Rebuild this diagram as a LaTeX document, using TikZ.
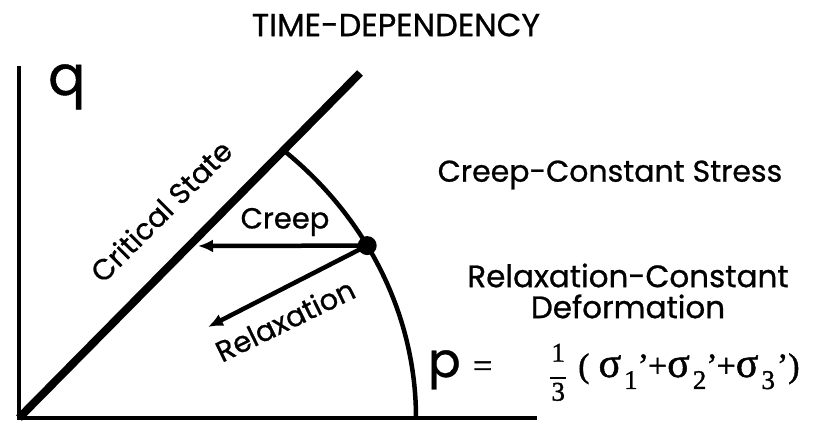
\documentclass[tikz,border=0pt]{standalone}
\usepackage{fontspec}
\setmainfont{Poppins}[FakeBold=0.8]
\newfontfamily\formfont{Liberation Serif}[FakeBold=1.2]
\usepackage{tikz}
\usetikzlibrary{arrows.meta,positioning,calc}
\newcommand\lowsub[1]{\hspace{3pt}\raisebox{-12pt}{\fontsize{27}{27}\selectfont#1}}
\newcommand\smallpart[1]{{\fontsize{34}{34}\selectfont#1}}
\tikzset{
  axis/.style={line width=4.5pt},
  csline/.style={line width=8pt},
  arr/.style={-{Latex[length=15pt,width=13pt]},line width=4.5pt},
  lbl/.style={font=\fontsize{29}{32}\selectfont,inner sep=0pt},
  title/.style={font=\fontsize{32}{36}\selectfont,inner sep=0pt}
}
\begin{document}
\begin{tikzpicture}[x=1pt,y=1pt]
    \useasboundingbox (0,0) rectangle (820,427);
    \coordinate (o) at (19,9);
    \draw[axis] (19,361) -- (o) -- (537,9);
    \draw[csline] (o) -- (360,354);
    \draw[axis] ($(o)+(48:397 and 359)$)
      arc[start angle=48,end angle=0,x radius=397,y radius=359];
    \node[circle,fill,inner sep=0pt,minimum size=19pt] (pt)
      at ($(o)+(28.7:397 and 359)$) {};
    \coordinate (creepend) at (198,181);
    \coordinate (relaxend) at (208,100);
    \draw[arr] (pt.center) -- (creepend);
    \draw[arr] (pt.center) -- (relaxend);
    \node[lbl] (creep) at (285,205) {Creep};
    \node[lbl,rotate=26] (relax) at (285,107) {Relaxation};
    \node[lbl,rotate=45] (crit) at (161,216) {Critical State};
    \node[font=\fontsize{55}{60}\selectfont,anchor=base west,inner sep=0pt] (q)
      at (48,332) {q};
    \node[title] (head) at (396,402) {TIME-DEPENDENCY};
    \node[lbl,font=\fontsize{30}{32}\selectfont] (cstress) at (610,252)
      {Creep-Constant Stress};
    \node[lbl,font=\fontsize{31}{31}\selectfont,align=center] (rdef) at (628,136)
      {Relaxation-Constant\\Deformation};
    \node[font=\fontsize{48}{50}\selectfont,anchor=base west,inner sep=0pt] (pvar)
      at (428,50) {p};
    \node[anchor=base west,inner sep=0pt,font=\formfont\fontsize{42}{44}\selectfont]
      (pdef) at ([xshift=12pt]pvar.base east)
      {\smallpart{=}\hspace{58pt}%
       \raisebox{-5pt}{\fontsize{27}{27}\selectfont
         \begin{tabular}{@{}c@{}}1\\[-10pt]\rule{16pt}{2pt}\\[-5pt]3\end{tabular}}%
       \hspace{12pt}\smallpart{(}\hspace{9pt}σ\lowsub{1}\smallpart{’\kern-1pt+}%
       σ\lowsub{2}\smallpart{’\kern-1pt+}σ\lowsub{3}\smallpart{\kern2pt’)}};
\end{tikzpicture}
\end{document}
